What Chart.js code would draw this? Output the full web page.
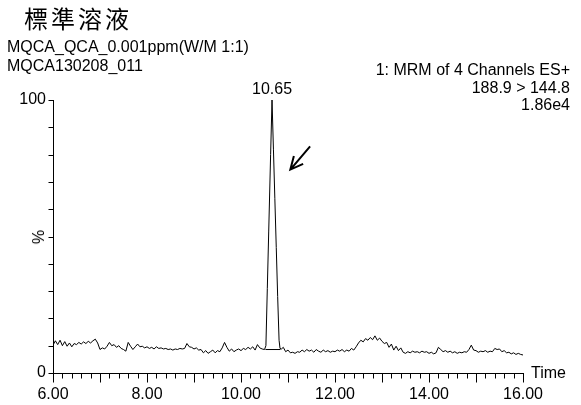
<!DOCTYPE html>
<html>
<head>
<meta charset="utf-8">
<script src="https://cdn.jsdelivr.net/npm/chart.js@4/dist/chart.umd.min.js"></script>
<style>
  html, body { margin: 0; padding: 0; background: #fff; }
  #wrap { position: relative; width: 581px; height: 405px; overflow: hidden; }
  canvas { position: absolute; left: 0; top: 0; }
  .t { position: absolute; font-family: "Liberation Sans", Arial, sans-serif; font-size: 16px; line-height: 16px; color: #000; white-space: nowrap; }
  .r { text-align: right; }
</style>
</head>
<body>
<div id="wrap">
  <canvas id="c" width="581" height="405"></canvas>
  <div class="t" id="title" style="left:24px;top:6px;font-family:'Noto Sans CJK TC','Noto Sans CJK JP',sans-serif;font-size:24px;line-height:24px;letter-spacing:3px;">標準溶液</div>
  <div class="t" style="left:7px;top:39px;">MQCA_QCA_0.001ppm(W/M 1:1)</div>
  <div class="t" style="left:7px;top:58px;">MQCA130208_011</div>
  <div class="t r" style="right:11px;top:62px;">1: MRM of 4 Channels ES+</div>
  <div class="t r" style="right:11px;top:80px;">188.9 &gt; 144.8</div>
  <div class="t r" style="right:11px;top:97px;">1.86e4</div>
  <div class="t" id="peakLbl" style="transform:translateX(-50%);"></div>
  <div class="t" id="timeLbl"></div>
  <div class="t" id="pctLbl" style="transform:translate(-50%,-50%) rotate(-90deg);">%</div>
</div>
<script>
// ---- data ----
const timesBefore = [
  6.00,6.05,6.10,6.15,6.20,6.25,6.30,6.35,6.40,6.45,6.50,6.55,6.60,6.65,6.70,6.75,6.80,6.85,6.90,6.95,
  7.00,7.05,7.10,7.15,7.20,7.25,7.30,7.35,7.40,7.45,7.50,7.55,7.60,7.65,7.70,7.75,7.80,7.85,7.90,7.95,
  8.00,8.05,8.10,8.15,8.20,8.25,8.30,8.35,8.40,8.45,8.50,8.55,8.60,8.65,8.70,8.75,8.80,8.85,8.90,8.95,
  9.00,9.05,9.10,9.15,9.20,9.25,9.30,9.35,9.40,9.45,9.50,9.55,9.60,9.65,9.70,9.75,9.80,9.85,9.90,9.95,
  10.00,10.05,10.10,10.15,10.20,10.25,10.30,10.35,10.40,10.45
];
const intensityBefore = [
  10.2,11.8,10.4,12.0,10.0,11.5,9.8,11.0,9.6,10.8,10.4,11.2,10.6,11.4,10.8,11.6,11.0,11.8,12.4,11.0,
  8.6,9.2,8.8,9.8,11.2,10.0,10.4,9.4,10.0,9.0,8.6,8.0,11.2,9.8,8.6,9.6,10.6,9.6,9.8,9.2,
  9.6,9.0,9.4,8.8,9.6,9.0,9.2,8.8,9.0,8.6,8.8,8.4,8.8,8.6,9.0,8.8,9.0,10.8,9.6,9.4,
  8.8,9.2,8.4,8.6,7.4,8.2,7.2,7.8,8.4,7.4,8.2,7.8,9.2,11.2,9.4,8.0,8.8,7.8,8.4,8.8,
  8.2,9.0,8.6,9.4,8.8,9.6,8.4,10.4,9.2,8.8
];
const timesPeak = [10.50,10.53,10.56,10.59,10.63,10.66,10.69,10.72,10.75,10.78,10.81,10.83];
const intensityPeak = [8.6,10.0,31.0,52.0,80.0,100.0,82.0,64.0,46.0,28.0,12.0,9.0];
const timesAfter = [
  10.86,10.90,10.95,11.00,11.05,11.10,11.15,11.20,11.25,11.30,11.35,11.40,11.45,11.50,11.55,11.60,11.65,11.70,11.75,11.80,11.85,11.90,11.95,
  12.00,12.05,12.10,12.15,12.20,12.25,12.30,12.35,12.40,12.45,12.50,12.55,12.60,12.65,12.70,12.75,12.80,12.85,12.90,12.95,
  13.00,13.05,13.10,13.15,13.20,13.25,13.30,13.35,13.40,13.45,13.50,13.55,13.60,13.65,13.70,13.75,13.80,13.85,13.90,13.95,
  14.00,14.05,14.10,14.15,14.20,14.25,14.30,14.35,14.40,14.45,14.50,14.55,14.60,14.65,14.70,14.75,14.80,14.85,14.90,14.95,
  15.00,15.05,15.10,15.15,15.20,15.25,15.30,15.35,15.40,15.45,15.50,15.55,15.60,15.65,15.70,15.75,15.80,15.85,15.90,15.95,
  16.00
];
const intensityAfter = [
  8.8,9.4,7.8,8.4,7.4,7.6,7.2,7.8,7.6,8.4,7.8,8.6,8.0,8.4,7.6,8.6,8.0,7.6,8.4,7.8,8.2,7.6,8.0,
  7.8,8.4,8.0,8.6,7.8,8.4,8.0,9.0,8.4,9.6,11.0,12.0,11.4,12.6,12.0,13.0,12.2,13.6,12.0,12.8,
  11.6,10.8,11.2,9.4,10.6,8.4,9.8,8.2,9.2,7.6,7.2,7.8,7.4,8.0,7.6,7.8,7.4,8.0,7.6,7.8,
  7.2,7.6,7.0,7.4,9.4,8.6,7.8,8.2,7.6,8.0,7.4,7.8,7.2,7.6,7.4,7.8,7.6,8.6,10.2,8.4,
  8.2,7.6,8.0,7.8,8.2,7.6,8.0,7.8,9.0,8.6,8.8,7.8,8.2,7.4,7.6,7.0,7.4,6.8,7.2,6.8,
  6.6
];
const baselineTimes = [10.52, 10.84];
const baselineLevel = [8.6, 8.6];
const peakLabel = "10.65";
const xTitle = "Time";
const yTitle = "%";
const yTickLabels = [0, 100];
const arrowFrom = {x: 11.47, y: 83};
const arrowTo = {x: 11.05, y: 74.5};

// ---- build datasets ----
const allTimes = timesBefore.concat(timesPeak, timesAfter);
const allInt = intensityBefore.concat(intensityPeak, intensityAfter);
const trace = allTimes.map((t, i) => ({x: t, y: allInt[i]}));
const baseline = baselineTimes.map((t, i) => ({x: t, y: baselineLevel[i]}));

const FONT = "'Liberation Sans', Arial, sans-serif";

const extras = {
  id: 'extras',
  afterDraw(chart) {
    const ctx = chart.ctx, xs = chart.scales.x, ys = chart.scales.y;
    ctx.save();
    ctx.strokeStyle = '#000';
    ctx.lineWidth = 1;
    const b = Math.round(ys.getPixelForValue(0)) + 0.5;
    const l = Math.round(xs.getPixelForValue(xs.min)) + 0.5;
    ctx.beginPath();
    // x ticks: minor every 0.2 min, longer at whole minutes
    const nx = Math.round((xs.max - xs.min) / 0.2);
    for (let i = 0; i <= nx; i++) {
      const v = xs.min + i * 0.2;
      const px = Math.round(xs.getPixelForValue(v)) + 0.5;
      ctx.moveTo(px, b);
      ctx.lineTo(px, b + (i % 5 === 0 ? 9 : 5));
    }
    // y ticks every 10 %
    for (let i = 0; i <= 10; i++) {
      const py = Math.round(ys.getPixelForValue(i * 10)) + 0.5;
      ctx.moveTo(l, py);
      ctx.lineTo(l - 5, py);
    }
    ctx.stroke();
    // arrow
    const x1 = xs.getPixelForValue(arrowFrom.x), y1 = ys.getPixelForValue(arrowFrom.y);
    const x2 = xs.getPixelForValue(arrowTo.x), y2 = ys.getPixelForValue(arrowTo.y);
    ctx.lineWidth = 2;
    ctx.beginPath();
    ctx.moveTo(x1, y1); ctx.lineTo(x2, y2);
    const ang = Math.atan2(y2 - y1, x2 - x1), L = 14, a = 0.45;
    ctx.moveTo(x2 - L * Math.cos(ang - a), y2 - L * Math.sin(ang - a));
    ctx.lineTo(x2, y2);
    ctx.lineTo(x2 - L * Math.cos(ang + a), y2 - L * Math.sin(ang + a));
    ctx.stroke();
    ctx.restore();
  }
};

const chart = new Chart(document.getElementById('c'), {
  type: 'line',
  data: {
    datasets: [
      { data: trace, borderColor: '#000', borderWidth: 1, pointRadius: 0, tension: 0, fill: false },
      { data: baseline, borderColor: '#000', borderWidth: 1, pointRadius: 0, tension: 0, fill: false }
    ]
  },
  options: {
    responsive: false,
    animation: false,
    devicePixelRatio: 1,
    layout: { padding: { left: 0, right: 58, top: 100, bottom: 0 } },
    plugins: { legend: { display: false }, tooltip: { enabled: false }, title: { display: false } },
    scales: {
      x: {
        type: 'linear', min: 6, max: 16,
        border: { display: true, color: '#000', width: 1 },
        grid: { display: false, drawOnChartArea: false, drawTicks: true, tickLength: 5, color: '#000' },
        ticks: {
          stepSize: 1, maxTicksLimit: 100, autoSkip: false, maxRotation: 0, minRotation: 0, padding: 7,
          color: '#000', font: { family: FONT, size: 16 },
          callback: (v) => { const r = Math.round(v); return (Math.abs(v - r) < 1e-6 && r % 2 === 0) ? r.toFixed(2) : ''; }
        },
        afterFit: (s) => { s.height = 32; }
      },
      y: {
        min: 0, max: 100,
        border: { display: true, color: '#000', width: 1 },
        grid: { display: false, drawOnChartArea: false, drawTicks: true, tickLength: 5, color: '#000' },
        ticks: {
          stepSize: 10, maxTicksLimit: 20, autoSkip: false, padding: 2,
          color: '#000', font: { family: FONT, size: 16 },
          callback: (v) => yTickLabels.includes(v) ? String(v) : ''
        },
        afterFit: (s) => { s.width = 53; }
      }
    }
  },
  plugins: [extras]
});

// position annotation text by the chart's scales
const xs = chart.scales.x, ys = chart.scales.y;
const iMax = allInt.indexOf(Math.max(...allInt));
const pk = document.getElementById('peakLbl');
pk.textContent = peakLabel;
pk.style.left = xs.getPixelForValue(allTimes[iMax]) + 'px';
pk.style.top = (ys.getPixelForValue(allInt[iMax]) - 19) + 'px';
const tl = document.getElementById('timeLbl');
tl.textContent = xTitle;
tl.style.left = (chart.chartArea.right + 8) + 'px';
tl.style.top = (ys.getPixelForValue(0) - 8) + 'px';
const pl = document.getElementById('pctLbl');
pl.textContent = yTitle;
pl.style.left = '39px';
pl.style.top = ys.getPixelForValue(50) + 'px';
</script>
</body>
</html>
